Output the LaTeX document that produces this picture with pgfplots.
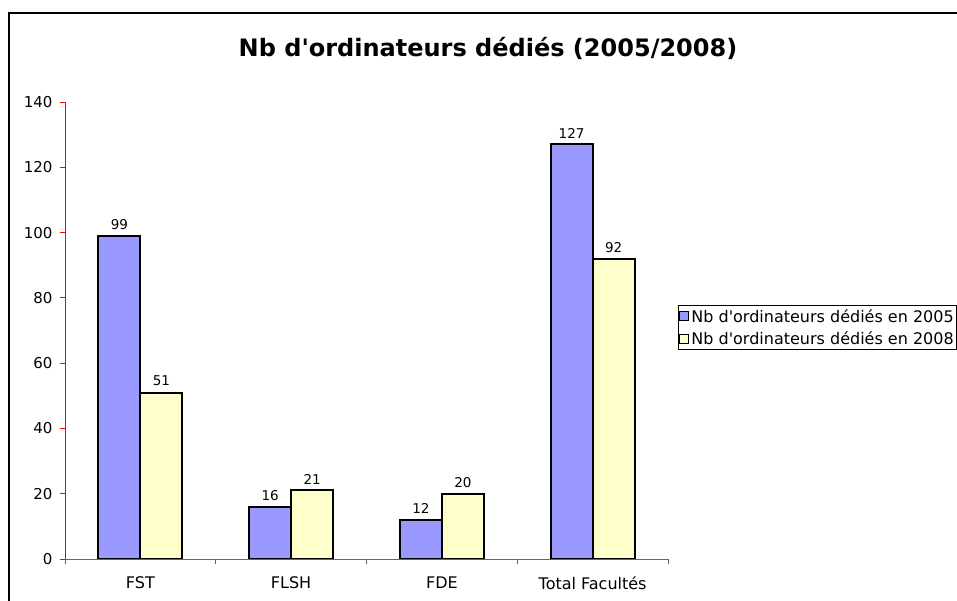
\documentclass[border=0pt]{standalone}
\usepackage{pgfplots}
\pgfplotsset{compat=1.18}
\usepackage{fontspec}
\setmainfont{DejaVu Sans}
\definecolor{c05}{HTML}{9999FF}
\definecolor{c08}{HTML}{FFFFCC}
\newcommand{\q}{\textquotesingle}
\begin{document}
\begin{tikzpicture}[x=1pt,y=1pt]
\path[use as bounding box] (0,0) rectangle (957,601);
\clip (0,0) rectangle (957,601);
\fill[white] (0,0) rectangle (957,601);
\draw[line width=2.5pt] (9,-10) -- (9,588) -- (975,588);
\node[font=\bfseries\fontsize{24}{28}\selectfont] at (488,553) {Nb d\q ordinateurs dédiés (2005/2008)};
\begin{axis}[
  at={(65pt,42pt)}, anchor=south west,
  width=603pt, height=457pt, scale only axis,
  xmin=-0.5, xmax=3.5, ymin=0, ymax=140,
  ybar=0pt, bar width=42pt,
  axis x line*=bottom, axis y line*=left,
  x axis line style={-, draw=gray!80!black, line width=0.8pt},
  y axis line style={-, draw=red, line width=0.8pt},
  ytick={0,20,...,140},
  xtick={-0.5,0.5,1.5,2.5,3.5},
  xticklabels={FST,FLSH,FDE,Total Facultés},
  x tick label as interval,
  tick align=outside,
  major tick length=5pt,
  y tick style={red, line width=0.8pt},
  x tick style={gray!80!black, line width=0.8pt},
  tick label style={black},
  yticklabel style={font=\fontsize{15}{18}\selectfont, xshift=-4pt},
  xticklabel style={font=\fontsize{16}{19}\selectfont, yshift=-9pt},
  /pgf/number format/assume math mode=true,
  nodes near coords,
  every node near coord/.append style={font=\fontsize{13.5}{16}\selectfont, black, yshift=2pt},
  legend style={at={(1.0166,0.556)}, anchor=north west, draw=black, line width=0.8pt,
    font=\fontsize{16}{19}\selectfont, row sep=4pt, inner sep=2pt, inner xsep=1pt},
  legend cell align=left,
  legend image code/.code={\draw[#1, line width=1pt] (0pt,-4.5pt) rectangle (9pt,4.5pt);},
]
\addplot[draw=black, line width=2pt, fill=c05] coordinates {(0,99) (1,16) (2,12) (3,127)};
\addplot[draw=black, line width=2pt, fill=c08] coordinates {(0,51) (1,21) (2,20) (3,92)};
\legend{Nb d\q ordinateurs dédiés en 2005, Nb d\q ordinateurs dédiés en 2008}
\end{axis}
\end{tikzpicture}
\end{document}
